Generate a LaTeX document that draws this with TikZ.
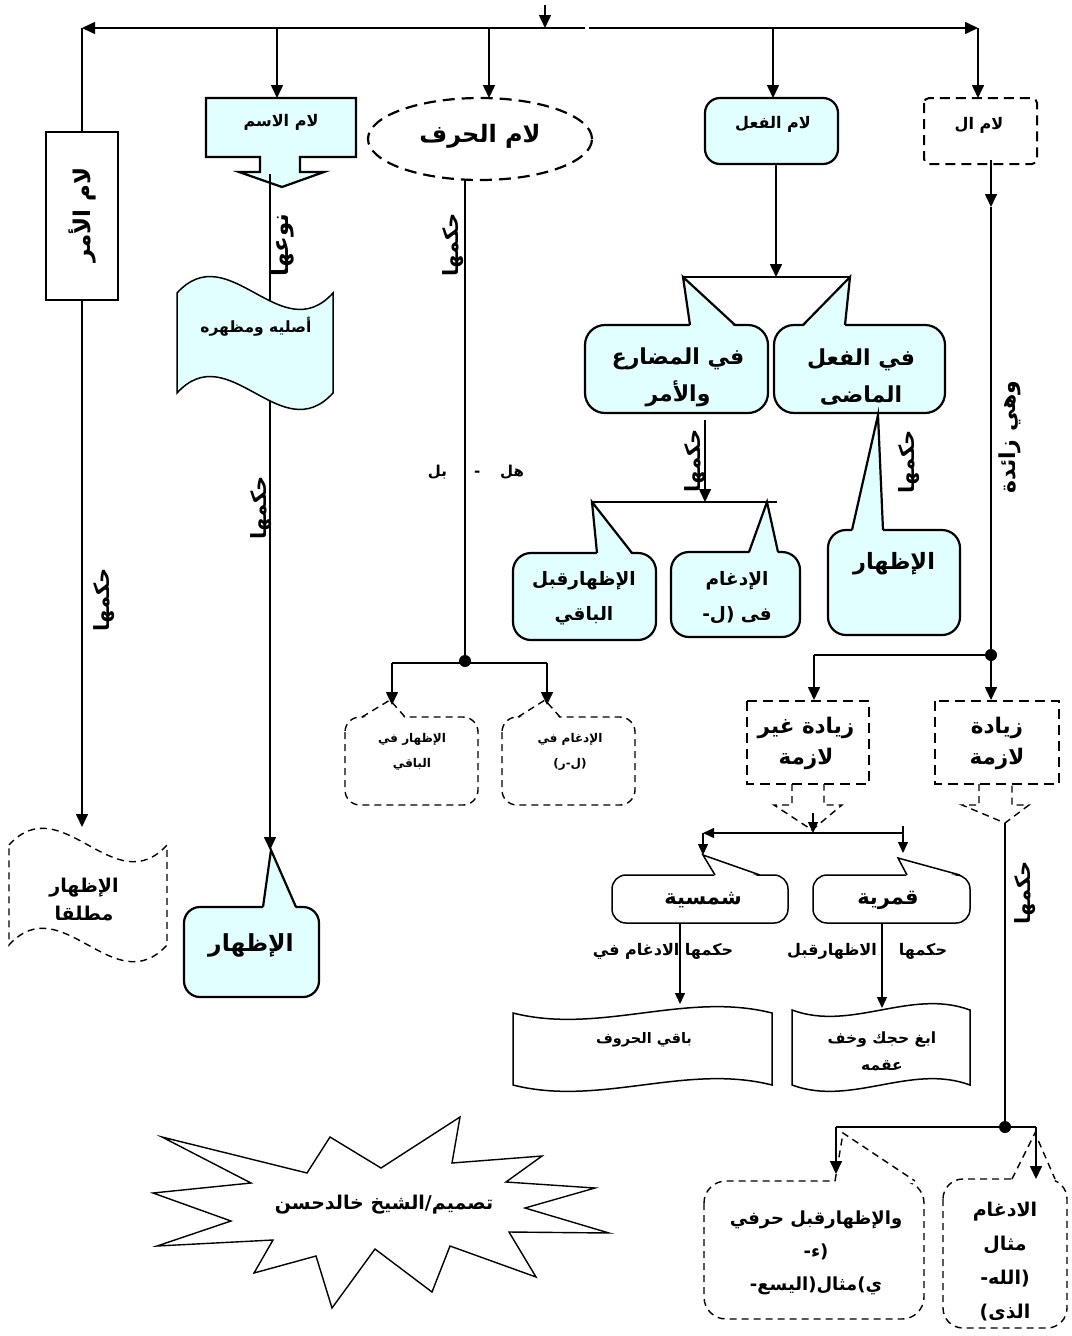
\documentclass[tikz,border=0pt]{standalone}
\usepackage{fontspec}
\TeXXeTstate=1
\newfontfamily\arabicfont[Script=Arabic]{DejaVu Sans}
\usetikzlibrary{arrows.meta}
\definecolor{lc}{RGB}{225,255,255}
\tikzset{
  ln/.style={line width=1.6pt},
  arr/.style={line width=1.6pt,-{Triangle[length=13pt,width=12pt]}},
  sarr/.style={line width=1.3pt,-{Triangle[length=11pt,width=10pt]}},
  bx/.style={line width=2.2pt},
  thinbx/.style={line width=1.5pt},
  dbx/.style={line width=2pt,dash pattern=on 10pt off 6pt},
  dcl/.style={line width=1.4pt,dash pattern=on 7pt off 5pt},
  arf/.style 2 args={font=\fontsize{#1}{#2}\selectfont\arabicfont\bfseries,inner sep=0pt,align=center},
  jdot/.style={circle,fill=black,inner sep=0pt,minimum size=12pt},
}
\newcommand\ArR[1]{\beginR #1\endR}
\newcommand\callout[9]{%
  \draw[#1,rounded corners=#9] (#2,#3) rectangle (#4,#5);
  \fill[#1,draw=none] (#6,#3+2) -- (#8) -- (#7,#3+2) -- cycle;
  \draw[#1,fill=none] (#6,#3) -- (#8) -- (#7,#3);
}
\newcommand\tapeshape[6]{%
  \draw[#1] (#2,#4) .. controls ({#2+(#3-#2)/3},{#4-(#6)}) and ({#2+2*(#3-#2)/3},{#4+(#6)}) .. (#3,#4)
   -- (#3,#5) .. controls ({#3-(#3-#2)/3},{#5+(#6)}) and ({#2+(#3-#2)/3},{#5-(#6)}) .. (#2,#5) -- cycle;
}
\begin{document}
\begin{tikzpicture}[x=1pt,y=-1pt]
\useasboundingbox (0,0) rectangle (1071,1336);
\fill[white] (0,0) rectangle (1071,1336);
% ---------- coordinates
\coordinate (t0) at (545,5);
\coordinate (tj) at (545,28);
\coordinate (mL) at (585,28);
\coordinate (mR) at (589,28);
\coordinate (jAmr) at (82,28);
\coordinate (jIsm) at (277,28);
\coordinate (jHarf) at (489,28);
\coordinate (jFil) at (773,28);
\coordinate (jAl) at (978,28);
\coordinate (amrT) at (82,132);
\coordinate (amrB) at (82,300);
\coordinate (amrE) at (82,827);
\coordinate (ismT) at (277,98);
\coordinate (ismS) at (270,174);
\coordinate (aslT) at (270,301);
\coordinate (aslB) at (270,401);
\coordinate (ismE) at (270,850);
\coordinate (harfT) at (489,98);
\coordinate (harfB) at (465,180);
\coordinate (filT) at (773,98);
\coordinate (filB) at (776,164);
\coordinate (filE) at (776,277);
\coordinate (alT) at (978,98);
\coordinate (alS) at (991,160);
\coordinate (alM) at (991,207);
% ---------- top connectors
\draw[arr] (t0) -- (tj);
\draw[arr] (mL) -- (jAmr);
\draw[arr] (mR) -- (jAl);
\draw[ln] (jAmr) -- (amrT);
\draw[arr] (jIsm) -- (ismT);
\draw[arr] (jHarf) -- (harfT);
\draw[arr] (jFil) -- (filT);
\draw[arr] (jAl) -- (alT);
% ---------- column 1
\draw[arr] (amrB) -- (amrE);
\draw[bx,fill=white] (46,132) rectangle (118,300);
\node[arf={23}{23},rotate=90] (tAmr) at (82,215) {\ArR{لام الأمر}};
\node[arf={21}{21},rotate=90] (hk1) at (104,600) {\ArR{حكمها}};
\tapeshape{dcl,fill=white}{9}{167}{845}{945}{58}
\node[arf={19}{28}] (tMut) at (84,899) {\ArR{الإظهار}\\\ArR{مطلقا}};
% ---------- column 2
\draw[bx,fill=lc] (206,98) -- (356,98) -- (356,157) -- (300,157) -- (300,172) -- (324,172) -- (282,187) -- (239,172) -- (260,172) -- (260,157) -- (206,157) -- cycle;
\node[arf={16}{16}] (tIsm) at (281,122) {\ArR{لام الاسم}};
\tapeshape{thinbx,fill=lc}{177}{333}{293}{393}{57}
\draw[ln] (ismS) -- (aslT);
\draw[arr] (aslB) -- (ismE);
\node[arf={15.5}{15.5}] (tAsl) at (256,327) {\ArR{أصليه ومظهره}};
\node[arf={23}{23},rotate=90] (tNaw) at (283,245) {\ArR{نوعها}};
\node[arf={21}{21},rotate=90] (hk2) at (261,508) {\ArR{حكمها}};
\coordinate (pIz) at (271,850);
\callout{bx,fill=lc}{184}{907}{319}{997}{263}{296}{pIz}{16pt}
\node[arf={23.5}{23.5}] (tIz2) at (251,945) {\ArR{الإظهار}};
% ---------- column 3
\draw[bx,dash pattern=on 12pt off 7pt,fill=white] (480,139) ellipse [x radius=112pt, y radius=41pt];
\node[arf={24}{24}] (tHarf) at (480,136) {\ArR{لام الحرف}};
\node[jdot] (d1) at (465,661) {};
\draw[ln] (harfB) -- (d1.center);
\node[arf={21}{21},rotate=90] (hk3) at (453,245) {\ArR{حكمها}};
\node[arf={15}{15}] (tHal) at (476,472) {\ArR{هل\hspace{20pt}-\hspace{27pt}بل}};
\coordinate (b1L) at (392,663);
\coordinate (b1R) at (547,663);
\draw[ln] (b1L) -- (b1R);
\coordinate (pz1) at (390,700);
\coordinate (pz2) at (545,700);
\callout{dcl,fill=white}{345}{717}{478}{805}{362}{405}{pz1}{15pt}
\callout{dcl,fill=white}{502}{717}{635}{805}{518}{560}{pz2}{15pt}
\draw[arr] (b1L) -- (392,705);
\draw[arr] (b1R) -- (547,705);
\node[arf={12}{25}] (tz1) at (412,752) {\ArR{الإظهار في}\\\ArR{الباقي}};
\node[arf={12}{25}] (tz2) at (570,752) {\ArR{الإدغام في}\\\ArR{(ل-ر)}};
% ---------- column 4
\draw[bx,fill=lc,rounded corners=15pt] (705,98) rectangle (838,164);
\node[arf={16}{16}] (tFil) at (773,124) {\ArR{لام الفعل}};
\draw[arr] (filB) -- (filE);
\coordinate (pA) at (683,277);
\coordinate (pB) at (850,277);
\draw[ln] (pA) -- (pB);
\callout{bx,fill=lc}{585}{325}{768}{413}{690}{735}{pA}{20pt}
\callout{bx,fill=lc}{774}{325}{945}{413}{803}{845}{pB}{20pt}
\node[arf={22}{37}] (tMud) at (678,377) {\ArR{في المضارع}\\\ArR{والأمر}};
\node[arf={22}{37}] (tMad) at (861,377) {\ArR{في الفعل}\\\ArR{الماضى}};
\coordinate (mudB) at (705,420);
\coordinate (mudE) at (705,502);
\draw[arr] (mudB) -- (mudE);
\coordinate (pC) at (592,502);
\coordinate (pC2) at (777,502);
\draw[ln] (pC) -- (pC2);
\node[arf={21}{21},rotate=90] (hk4) at (695,461) {\ArR{حكمها}};
\coordinate (pD) at (767,502);
\callout{bx,fill=lc}{513}{553}{656}{640}{597}{632}{pC}{18pt}
\node[arf={18.5}{35}] (tQbl) at (584,598) {\ArR{الإظهارقبل}\\\ArR{الباقي}};
\callout{bx,fill=lc}{671}{552}{800}{637}{749}{778}{pD}{18pt}
\node[arf={18.5}{35}] (tIdg) at (737,598) {\ArR{الإدغام}\\\ArR{فى (ل-}};
\coordinate (pE) at (878,415);
\callout{bx,fill=lc}{828}{530}{960}{635}{852}{883}{pE}{18pt}
\node[arf={22.5}{22.5}] (tIz3) at (894,564) {\ArR{الإظهار}};
\node[arf={21}{21},rotate=90] (hk5) at (909,462) {\ArR{حكمها}};
% ---------- column 5
\draw[dbx,rounded corners=5pt] (924,98) rectangle (1037,164);
\node[arf={16}{16}] (tAl) at (979,125) {\ArR{لام ال}};
\draw[arr] (alS) -- (alM);
\node[jdot] (d2) at (991,655) {};
\draw[ln] (alM) -- (d2.center);
\node[arf={22}{22},rotate=90] (tZa) at (1010,437) {\ArR{وهي زائدة}};
\coordinate (g1) at (814,655);
\draw[ln] (d2.center) -- (g1);
\draw[arr] (g1) -- (814,700);
\draw[arr] (d2.center) -- (991,700);
\draw[dbx] (747,701) rectangle (869,784);
\draw[dbx] (935,701) rectangle (1059,784);
\node[arf={21.5}{31}] (tGh) at (806,743) {\ArR{زيادة غير}\\\ArR{لازمة}};
\node[arf={21.5}{31}] (tLz) at (997,743) {\ArR{زيادة}\\\ArR{لازمة}};
\draw[dcl] (792,784) -- (792,805) -- (774,805) -- (812,830) -- (842,805) -- (824,805) -- (824,784);
\draw[dcl] (979,784) -- (979,805) -- (962,805) -- (1005,823) -- (1029,805) -- (1012,805) -- (1012,784);
\coordinate (s0) at (813,813);
\coordinate (s1) at (813,833);
\coordinate (sL) at (703,833);
\coordinate (sR) at (903,833);
\coordinate (pF) at (703,855);
\coordinate (pG) at (898,858);
\callout{thinbx,fill=white}{612}{875}{788}{923}{715}{760}{pF}{14pt}
\callout{thinbx,fill=white}{813}{875}{970}{923}{907}{960}{pG}{14pt}
\draw[sarr] (s0) -- (s1);
\draw[sarr] (sR) -- (sL);
\draw[sarr] (sL) -- (pF);
\draw[sarr] (903,826) -- (903,853);
\node[arf={21}{21}] (tSh) at (703,900) {\ArR{شمسية}};
\node[arf={21}{21}] (tQm) at (888,900) {\ArR{قمرية}};
\node[arf={16}{16}] (tR1) at (663,951) {\ArR{حكمها الادغام في}};
\node[arf={16}{16}] (tR2) at (832,951) {\ArR{الاظهارقبل}};
\node[arf={16}{16}] (tR3) at (923,951) {\ArR{حكمها}};
\tapeshape{thinbx,fill=white}{513}{772}{1013}{1085}{-22}
\tapeshape{thinbx,fill=white}{792}{970}{1010}{1085}{-22}
\draw[sarr] (680,923) -- (680,1004);
\draw[sarr] (882,923) -- (882,1008);
\node[arf={14.5}{14.5}] (tBq) at (644,1040) {\ArR{باقي الحروف}};
\node[arf={15.5}{27}] (tAb) at (882,1051) {\ArR{ابغ حجك وخف}\\\ArR{عقمه}};
% ---------- bottom right
\node[jdot] (d3) at (1005,1127) {};
\draw[ln] (1005,823) -- (d3.center);
\node[arf={21}{21},rotate=90] (hk6) at (1025,893) {\ArR{حكمها}};
\coordinate (hL) at (836,1127);
\coordinate (hR) at (1036,1127);
\draw[ln] (hL) -- (hR);
\coordinate (pH) at (843,1133);
\coordinate (pI) at (1035,1133);
\callout{dcl,fill=white}{704}{1181}{924}{1319}{835}{915}{pH}{22pt}
\callout{dcl,fill=white}{943}{1179}{1067}{1328}{1012}{1055}{pI}{20pt}
\draw[arr] (hL) -- (836,1174);
\draw[arr] (hR) -- (1036,1179);
\node[arf={18}{33}] (tW) at (816,1253) {\ArR{والإظهارقبل حرفي}\\\ArR{(ء-}\\\ArR{ي)مثال(اليسع-}};
\node[arf={19}{34}] (tD) at (1005,1262) {\ArR{الادغام}\\\ArR{مثال}\\\ArR{(الله-}\\\ArR{الذى)}};
% ---------- star
\draw[line width=1.4pt,fill=white] (162,1137) -- (307,1173) -- (330,1137) -- (381,1168) -- (460,1117) -- (452,1163) -- (542,1156) -- (506,1182) -- (595,1188) -- (525,1208) -- (609,1233) -- (509,1232) -- (536,1277) -- (450,1246) -- (432,1292) -- (375,1249) -- (332,1308) -- (316,1256) -- (254,1273) -- (273,1240) -- (157,1246) -- (231,1221) -- (153,1193) -- (251,1183) -- cycle;
\node[arf={19}{19}] (tSig) at (384,1205) {\ArR{تصميم/الشيخ خالدحسن}};
\end{tikzpicture}
\end{document}
